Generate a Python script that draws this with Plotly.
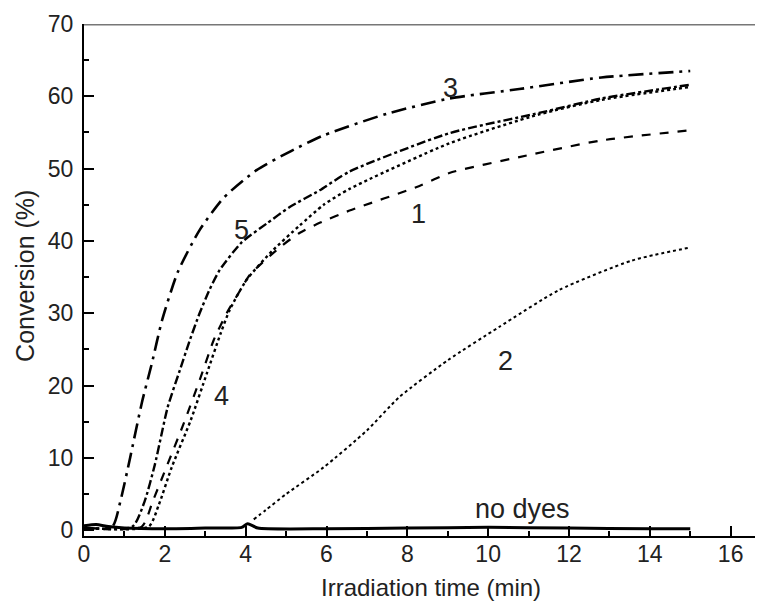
import plotly.graph_objects as go

# values (time in min, conversion in %)
t3 = [0, 0.7, 0.9, 1.14, 1.43, 1.68, 1.93, 2.32, 2.86, 3.46, 4.27, 5.11, 5.93, 7.5, 9.04, 10.77, 12.8, 15.0]
c3 = [0.3, 0.5, 4.0, 10.0, 17.6, 23.1, 29.0, 35.7, 41.5, 46.0, 49.8, 52.4, 54.6, 57.6, 59.7, 61.0, 62.6, 63.5]

t5 = [0, 1.2, 1.5, 1.75, 2.07, 2.37, 2.62, 2.86, 3.11, 3.36, 3.9, 4.52, 5.09, 5.83, 6.57, 9.04, 11.26, 12.8, 15.0]
c5 = [0.3, 0.5, 4.0, 9.0, 17.0, 22.1, 26.3, 30.0, 33.3, 36.0, 39.8, 42.4, 44.7, 47.0, 49.6, 54.9, 57.7, 59.7, 61.6]

t4 = [0, 1.6, 1.85, 2.17, 2.64, 3.04, 3.38, 3.6, 4.02, 4.67, 5.33, 5.93, 6.57, 9.04, 11.26, 12.8, 15.0]
c4 = [0.3, 0.5, 3.5, 8.7, 15.2, 21.7, 27.2, 30.4, 34.6, 38.7, 42.1, 45.0, 47.2, 53.5, 57.5, 59.5, 61.3]

t1 = [0, 1.43, 1.7, 1.98, 2.47, 2.89, 3.21, 3.53, 3.9, 4.1, 4.84, 5.33, 5.83, 6.57, 8.3, 9.04, 10.77, 12.8, 15.0]
c1 = [0.3, 0.5, 4.0, 7.9, 14.8, 21.2, 26.3, 30.0, 33.5, 35.3, 39.1, 41.1, 42.5, 44.2, 47.6, 49.4, 51.6, 53.9, 55.3]

t2 = [4.2, 4.5, 5.0, 5.93, 7.0, 7.8, 9.0, 10.27, 11.75, 13.56, 15.0]
c2 = [1.5, 2.8, 5.0, 8.7, 13.8, 18.4, 23.5, 28.1, 33.2, 37.3, 39.1]

t0 = [0, 0.3, 0.6, 1.0, 2.0, 3.0, 3.9, 4.05, 4.3, 6.0, 8.0, 10.0, 12.0, 14.0, 15.0]
c0 = [0.6, 0.8, 0.5, 0.3, 0.2, 0.3, 0.4, 0.9, 0.3, 0.2, 0.3, 0.4, 0.3, 0.2, 0.2]

labels = ["3", "5", "1", "4", "2", "no dyes"]
label_x = [9.06, 3.89, 8.27, 3.41, 10.42, 10.85]
label_y = [61.1, 41.5, 43.7, 18.5, 23.4, 2.9]

FONT = "Liberation Sans, Arial, sans-serif"
TXT = "#222"

fig = go.Figure()

series = [
    (t0, c0, "solid", 3.0),
    (t2, c2, "dot", 2.0),
    (t1, c1, "dash", 2.2),
    (t4, c4, "dot", 2.4),
    (t5, c5, "dashdot", 2.4),
    (t3, c3, "longdashdot", 2.6),
]
for t, c, dash, w in series:
    fig.add_trace(go.Scatter(x=t, y=c, mode="lines",
                             line=dict(color="black", width=w, dash=dash, shape="spline", smoothing=0.6),
                             showlegend=False))

for txt, x, y in zip(labels, label_x, label_y):
    fig.add_annotation(x=x, y=y, text=txt, showarrow=False,
                       font=dict(family=FONT, size=27, color=TXT))

# axis titles placed as annotations so they sit where the original has them
fig.add_annotation(xref="paper", yref="paper", x=0.511, y=0, yanchor="top", yshift=-36,
                   text="Irradiation time (min)", showarrow=False,
                   font=dict(family=FONT, size=24, color=TXT))
fig.add_annotation(xref="paper", yref="paper", x=0, y=0.508, xanchor="center", xshift=-59,
                   text="Conversion (%)", textangle=-90, showarrow=False,
                   font=dict(family=FONT, size=25, color=TXT))

# grey frame line along the top
fig.add_shape(type="line", xref="paper", yref="y", x0=0, x1=1, y0=70, y1=70,
              line=dict(color="#777", width=3))

fig.update_xaxes(range=[0, 16.8], dtick=2, tick0=0, ticks="inside", ticklen=10, tickwidth=2,
                 tickcolor="black", showline=True, linecolor="black", linewidth=2,
                 showgrid=False, zeroline=False, automargin=False, ticklabelstandoff=-4,
                 minor=dict(dtick=1, ticks="inside", ticklen=5, tickwidth=1.5, tickcolor="black"),
                 tickfont=dict(family=FONT, size=23, color=TXT))
fig.update_yaxes(range=[-0.8, 70], dtick=10, tick0=0, ticks="inside", ticklen=10, tickwidth=2,
                 tickcolor="black", showline=True, linecolor="black", linewidth=2,
                 showgrid=False, zeroline=False, automargin=False, ticklabelstandoff=4,
                 minor=dict(dtick=5, ticks="inside", ticklen=5, tickwidth=1.5, tickcolor="black"),
                 tickfont=dict(family=FONT, size=23, color=TXT))

# the page body adds an 8px margin, so the figure is 8px smaller and shifted
fig.update_layout(width=755, height=593, margin=dict(l=76, r=0, t=16, b=65),
                  plot_bgcolor="white", paper_bgcolor="white")

fig.write_html("out.html")
